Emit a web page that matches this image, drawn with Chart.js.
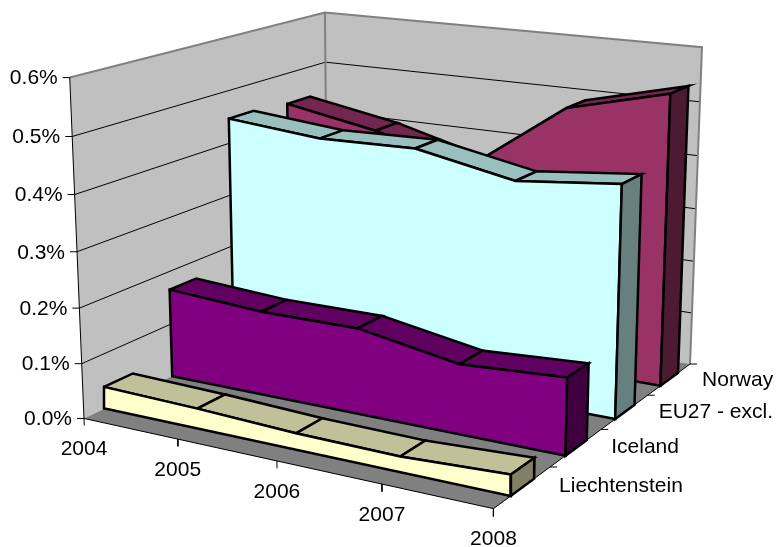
<!DOCTYPE html>
<html><head><meta charset="utf-8">
<style>html,body{margin:0;padding:0;background:#fff}canvas{display:block}</style>
<script src="https://cdn.jsdelivr.net/npm/chart.js@4"></script>
</head><body><canvas id="c" width="778" height="547"></canvas>
<script>
// ---- data (percent) ----
const years = ['2004','2005','2006','2007','2008'];
const seriesNames = ['Liechtenstein','Iceland','EU27 - excl.','Norway'];
const liechtenstein = [0.040,0.036,0.029,0.027,0.036];
const iceland = [0.166,0.155,0.156,0.125,0.136];
const eu27 = [0.447,0.431,0.435,0.400,0.419];
const norway = [0.440,0.408,0.360,0.493,0.539];
const yTicks = [0,0.1,0.2,0.3,0.4,0.5,0.6];
const yMax = 0.6;

// ---- colours: front, top, side ----
const faceColors = [
  ['#FFFFCC','#C0C099','#808066'],
  ['#800080','#600060','#400040'],
  ['#CCFFFF','#99BFBF','#668080'],
  ['#993366','#732650','#4D1A33']
];

// ---- camera: fitted at load from where the box corners sit on the page ----
const PAGE_W = 778, PAGE_H = 547;
const PLOT_TOP = 78, PLOT_BOTTOM = 418;
const PCT_PER_PX = yMax/(PLOT_BOTTOM-PLOT_TOP);
const frameAnchors = [
  [0,0,0,84,418],[0,0,1,70,78],[0,1,1,325,12],[1,1,1,702,47],[1,1,0,690,363],[1,0,0,493,508],
  [.25,0,0,178,440],[.5,0,0,277,461],[.75,0,0,382,485],
  [1,.25,0,550,467],[1,.5,0,601,429],[1,.75,0,648,396],
  [0,0,.5,77,251],[0,0,5/6,72,136],[0,1,5/6,325,63],[1,1,5/6,700,102],[1,1,4/6,698,156]
];
function solveCamera(a){
  const n=11, M=Array.from({length:n},()=>new Array(n+1).fill(0));
  const add=(r,b)=>{for(let i=0;i<n;i++){for(let j=0;j<n;j++)M[i][j]+=r[i]*r[j];M[i][n]+=r[i]*b;}};
  a.forEach(([u,v,w,x,y])=>{x/=100;y/=100;
    add([u,v,w,1,0,0,0,0,-x*u,-x*v,-x*w],x);
    add([0,0,0,0,u,v,w,1,-y*u,-y*v,-y*w],y);});
  for(let i=0;i<n;i++){
    let p=i;for(let k=i+1;k<n;k++)if(Math.abs(M[k][i])>Math.abs(M[p][i]))p=k;
    [M[i],M[p]]=[M[p],M[i]];
    for(let k=0;k<n;k++)if(k!==i){const f=M[k][i]/M[i][i];for(let j=i;j<=n;j++)M[k][j]-=f*M[i][j];}
  }
  return M.map((r,i)=>r[n]/r[i]);
}
const cam = solveCamera(frameAnchors);
function toPage(u,v,w){
  const d=cam[8]*u+cam[9]*v+cam[10]*w+1;
  return [100*(cam[0]*u+cam[1]*v+cam[2]*w+cam[3])/d,100*(cam[4]*u+cam[5]*v+cam[6]*w+cam[7])/d];
}
// returns a point in the units of the chart's x (page) and y (percent) scales
function project(u,v,value,dx=0){
  const [px,py]=toPage(u,v,value/yMax);
  return {x:px+dx,y:(PLOT_BOTTOM-py)*PCT_PER_PX};
}

// ---- build the datasets, back to front ----
const RIBBON_HALF = 0.052;
const datasets = [];
const poly=(pts,fill,stroke,width)=>datasets.push({
  data:[...pts,pts[0]],showLine:true,fill:'shape',backgroundColor:fill,borderColor:stroke,borderWidth:width,
  pointRadius:0,tension:0,clip:false,borderJoinStyle:'miter',borderCapStyle:'round'});
const line=(pts,stroke,width)=>datasets.push({
  data:pts,showLine:true,fill:false,borderColor:stroke,borderWidth:width,pointRadius:0,tension:0,clip:false});

// walls and floor
poly([project(0,0,0),project(0,1,0),project(0,1,yMax),project(0,0,yMax)],'#C0C0C0','rgba(0,0,0,0)',0);
poly([project(0,1,0),project(1,1,0),project(1,1,yMax),project(0,1,yMax)],'#C0C0C0','rgba(0,0,0,0)',0);
yTicks.slice(1,-1).forEach(t=>line([project(0,0,t),project(0,1,t),project(1,1,t)],'#000',1));
line([project(0,0,yMax),project(0,1,yMax),project(1,1,yMax),project(1,1,0)],'#808080',2);
line([project(0,1,yMax),project(0,1,0)],'#808080',2);
poly([project(0,0,0),project(1,0,0),project(1,1,0),project(0,1,0)],'#808080','rgba(0,0,0,0)',0);
line([project(0,0,yMax),project(0,0,0),project(1,0,0),project(1,1,0)],'#000',1);
yTicks.forEach(t=>line([project(0,0,t),project(0,0,t,-7)],'#000',1));
years.forEach((y,i)=>{const u=i/(years.length-1);line([project(u,0,0),project(u,0,-0.013)],'#000',1);});
seriesNames.forEach((s,i)=>{const v=(i+1)/seriesNames.length;line([project(1,v,0),project(1,v,0,7)],'#000',1);});

// ribbons
[norway,eu27,iceland,liechtenstein].forEach((vals,r)=>{
  const i=3-r, mid=(i+.5)/seriesNames.length, vf=mid-RIBBON_HALF, vb=mid+RIBBON_HALF;
  const [front,top,side]=faceColors[i], last=vals.length-1, U=j=>j/last;
  for(let j=0;j<last;j++)
    poly([project(U(j),vf,vals[j]),project(U(j+1),vf,vals[j+1]),project(U(j+1),vb,vals[j+1]),project(U(j),vb,vals[j])],top,'#000',2.5);
  const tops=vals.map((val,j)=>project(U(j),vf,val));
  poly([...tops,project(1,vf,0),project(0,vf,0)],front,'#000',2.5);
  poly([project(1,vf,vals[last]),project(1,vb,vals[last]),project(1,vb,0),project(1,vf,0)],side,'#000',2.5);
});
// Chart.js paints higher order first, so list order becomes paint order
datasets.forEach((d,i)=>{d.order=datasets.length-i;});

// ---- axis text ----
const axisText={id:'axisText',afterDraw(chart){
  const {ctx,scales:{x,y}}=chart;
  const at=p=>[x.getPixelForValue(p.x),y.getPixelForValue(p.y)];
  ctx.save();ctx.fillStyle='#000';ctx.font='21px "Liberation Sans"';ctx.textBaseline='middle';
  ctx.textAlign='right';
  yTicks.forEach(t=>{const [a,b]=at(project(0,0,t));ctx.fillText(t.toFixed(1)+'%',a-12,b+1);});
  ctx.textAlign='center';
  years.forEach((s,i)=>{const [a,b]=at(project(i/(years.length-1),0,0));ctx.fillText(s,a,b+31);});
  ctx.textAlign='left';
  seriesNames.forEach((s,i)=>{const [a,b]=at(project(1,(i+1)/seriesNames.length,0));ctx.fillText(s,a+9+i,b+19-i);});
  ctx.restore();
}};

new Chart(document.getElementById('c'),{
  type:'scatter',
  data:{datasets},
  plugins:[axisText],
  options:{
    responsive:false,animation:false,events:[],
    layout:{padding:0},
    plugins:{legend:{display:false},tooltip:{enabled:false},title:{display:false}},
    scales:{
      x:{type:'linear',display:false,min:0,max:PAGE_W},
      y:{type:'linear',display:false,min:(PLOT_BOTTOM-PAGE_H)*PCT_PER_PX,max:PLOT_BOTTOM*PCT_PER_PX}
    }
  }
});
</script></body></html>
